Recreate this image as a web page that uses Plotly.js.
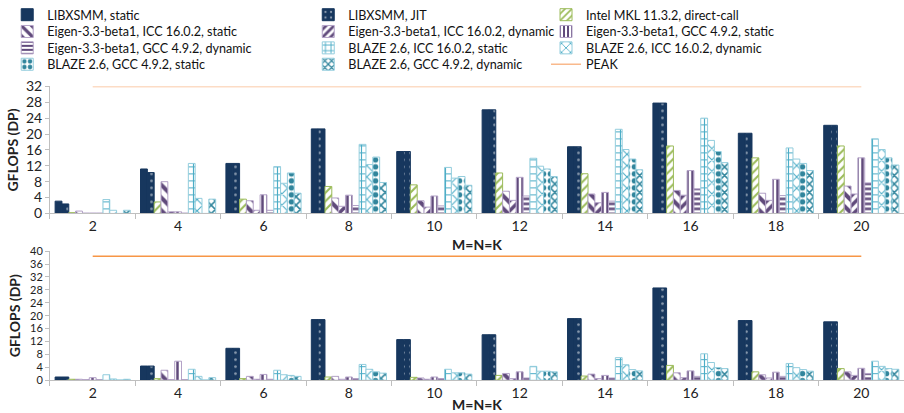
<!DOCTYPE html>
<html>
<head>
<meta charset="utf-8">
<script src="https://cdn.plot.ly/plotly-3.0.1.min.js"></script>
<style>html,body{margin:0;padding:0;background:#fff;}#chart{width:904px;height:413px;}</style>
</head>
<body>
<div id="chart"></div>
<script>
const categories = ['2','4','6','8','10','12','14','16','18','20'];
const seriesNames = [
  'LIBXSMM, static','LIBXSMM, JIT','Intel MKL 11.3.2, direct-call',
  'Eigen-3.3-beta1, ICC 16.0.2, static','Eigen-3.3-beta1, ICC 16.0.2, dynamic','Eigen-3.3-beta1, GCC 4.9.2, static',
  'Eigen-3.3-beta1, GCC 4.9.2, dynamic','BLAZE 2.6, ICC 16.0.2, static','BLAZE 2.6, ICC 16.0.2, dynamic',
  'BLAZE 2.6, GCC 4.9.2, static','BLAZE 2.6, GCC 4.9.2, dynamic'
];
const peakName = 'PEAK';

// Top chart values
const topLibxsmmStatic   = [3.1, 11.2, 12.6, 21.3, 15.6, 26.1, 16.8, 27.8, 20.2, 22.2];
const topLibxsmmJit      = [2.4, 10.3, 12.6, 21.3, 15.6, 26.1, 16.8, 27.8, 20.2, 22.2];
const topMkl             = [0.2, 2.9, 3.6, 6.8, 7.2, 10.2, 10.0, 17.0, 14.0, 17.0];
const topEigenIccStatic  = [0.6, 8.0, 3.2, 3.9, 3.2, 5.6, 4.9, 5.8, 5.1, 6.9];
const topEigenIccDyn     = [0.1, 0.4, 0.8, 1.8, 1.6, 3.3, 2.7, 4.6, 3.3, 4.9];
const topEigenGccStatic  = [0.1, 0.4, 4.7, 4.6, 4.4, 9.1, 5.3, 10.8, 8.6, 14.0];
const topEigenGccDyn     = [0.1, 0.1, 0.8, 2.0, 1.9, 4.4, 3.1, 6.2, 4.5, 7.7];
const topBlazeIccStatic  = [3.5, 12.6, 11.8, 17.4, 11.6, 13.9, 21.2, 24.0, 16.5, 18.8];
const topBlazeIccDyn     = [0.8, 3.8, 7.6, 12.3, 8.9, 11.9, 16.1, 18.4, 13.7, 16.1];
const topBlazeGccStatic  = [0.0, 0.0, 10.2, 14.2, 9.3, 11.2, 13.7, 15.6, 12.6, 14.0];
const topBlazeGccDyn     = [0.8, 3.6, 5.1, 7.8, 7.1, 9.3, 11.0, 12.8, 10.8, 12.2];
const topPeak            = [32, 32, 32, 32, 32, 32, 32, 32, 32, 32];

// Bottom chart values
const botLibxsmmStatic   = [1.0, 4.4, 9.9, 18.8, 12.6, 14.1, 19.1, 28.6, 18.5, 18.1];
const botLibxsmmJit      = [1.0, 4.4, 9.9, 18.8, 12.6, 14.1, 19.1, 28.6, 18.5, 18.1];
const botMkl             = [0.3, 0.5, 0.5, 1.0, 0.9, 1.5, 1.3, 4.6, 2.6, 3.6];
const botEigenIccStatic  = [0.3, 3.1, 1.2, 1.2, 0.7, 2.1, 1.9, 2.3, 1.7, 2.6];
const botEigenIccDyn     = [0.2, 0.2, 0.3, 0.3, 0.3, 0.5, 0.5, 0.8, 0.7, 1.5];
const botEigenGccStatic  = [0.8, 5.9, 1.8, 1.0, 1.0, 2.6, 1.5, 2.9, 2.5, 3.7];
const botEigenGccDyn     = [0.2, 0.2, 0.3, 0.5, 0.5, 0.7, 0.7, 1.2, 1.2, 2.1];
const botBlazeIccStatic  = [1.7, 3.4, 3.1, 4.9, 3.4, 4.3, 7.0, 8.2, 5.2, 5.9];
const botBlazeIccDyn     = [0.4, 1.2, 1.7, 3.4, 2.3, 2.8, 4.8, 5.5, 3.9, 4.3];
const botBlazeGccStatic  = [0.1, 0.1, 1.5, 2.6, 2.3, 2.8, 3.3, 3.9, 3.3, 3.6];
const botBlazeGccDyn     = [0.3, 0.8, 1.2, 2.2, 1.9, 2.6, 2.9, 3.6, 2.8, 3.4];
const botPeak            = [38.4, 38.4, 38.4, 38.4, 38.4, 38.4, 38.4, 38.4, 38.4, 38.4];

const topSeries = [topLibxsmmStatic, topLibxsmmJit, topMkl, topEigenIccStatic, topEigenIccDyn, topEigenGccStatic,
  topEigenGccDyn, topBlazeIccStatic, topBlazeIccDyn, topBlazeGccStatic, topBlazeGccDyn];
const botSeries = [botLibxsmmStatic, botLibxsmmJit, botMkl, botEigenIccStatic, botEigenIccDyn, botEigenGccStatic,
  botEigenGccDyn, botBlazeIccStatic, botBlazeIccDyn, botBlazeGccStatic, botBlazeGccDyn];

const NAVY = '#17375E', GREEN = '#9BBB59', PURPLE = '#604A7B', LPURPLE = '#B3A2C7',
      TEAL = '#31859C', BLUE = '#4BACC6', LBLUE = '#93CDDD';
const styles = [
  {color: NAVY, line: NAVY, pattern: {shape: ''}},
  {color: NAVY, line: NAVY, pattern: {shape: '.', fillmode: 'overlay', fgcolor: '#ffffff', bgcolor: NAVY, size: 7, solidity: 0.12}},
  {color: '#ffffff', line: GREEN, pattern: {shape: '/', fgcolor: GREEN, bgcolor: '#ffffff', size: 6, solidity: 0.35}},
  {color: '#ffffff', line: LPURPLE, pattern: {shape: '\\', fgcolor: PURPLE, bgcolor: '#ffffff', size: 9, solidity: 0.45}},
  {color: '#ffffff', line: LPURPLE, pattern: {shape: '/', fgcolor: PURPLE, bgcolor: '#ffffff', size: 7, solidity: 0.5}},
  {color: '#ffffff', line: LPURPLE, pattern: {shape: '|', fgcolor: PURPLE, bgcolor: '#ffffff', size: 5, solidity: 0.5}},
  {color: '#ffffff', line: LPURPLE, pattern: {shape: '-', fgcolor: PURPLE, bgcolor: '#ffffff', size: 5, solidity: 0.5}},
  {color: '#ffffff', line: LBLUE, pattern: {shape: '+', fgcolor: BLUE, bgcolor: '#ffffff', size: 7, solidity: 0.3}},
  {color: '#ffffff', line: LBLUE, pattern: {shape: 'x', fgcolor: BLUE, bgcolor: '#ffffff', size: 8, solidity: 0.25}},
  {color: '#ffffff', line: LBLUE, pattern: {shape: '.', fgcolor: TEAL, bgcolor: '#ffffff', size: 7, solidity: 0.5}},
  {color: '#ffffff', line: LBLUE, pattern: {shape: 'x', fgcolor: TEAL, bgcolor: '#ffffff', size: 6, solidity: 0.45}}
];
// one legend per entry, laid out in 3 columns x 4 rows (row-major)
const legendId = i => (i === 0 ? 'legend' : 'legend' + (i + 1));

const traces = [];
seriesNames.forEach((name, i) => {
  const st = styles[i];
  const mk = {color: st.color, line: {color: st.line, width: 1}, pattern: st.pattern};
  traces.push({type: 'bar', name: name, x: categories, y: topSeries[i], xaxis: 'x', yaxis: 'y',
    marker: mk, legend: legendId(i), legendgroup: 'g' + i, showlegend: true, hoverinfo: 'skip'});
  traces.push({type: 'bar', name: name, x: categories, y: botSeries[i], xaxis: 'x2', yaxis: 'y2',
    marker: mk, legend: legendId(i), legendgroup: 'g' + i, showlegend: false, hoverinfo: 'skip'});
});
traces.push({type: 'scatter', mode: 'lines', name: peakName, x: categories, y: topPeak, xaxis: 'x', yaxis: 'y',
  line: {color: '#F9B98C', width: 1.5}, legend: legendId(11), showlegend: true, hoverinfo: 'skip'});
traces.push({type: 'scatter', mode: 'lines', name: peakName, x: categories, y: botPeak, xaxis: 'x2', yaxis: 'y2',
  line: {color: '#F79646', width: 1.5}, legend: legendId(11), showlegend: false, hoverinfo: 'skip'});

const FONT = 'Lato, "Open Sans", sans-serif';
const xCommon = {type: 'category', categoryorder: 'array', categoryarray: categories,
  showline: true, linecolor: '#BFBFBF', linewidth: 1, ticks: 'outside', tickson: 'boundaries',
  ticklen: 5, tickcolor: '#BFBFBF', showgrid: false, zeroline: false,
  tickfont: {family: FONT, size: 14, color: '#222'}, domain: [0.0553, 1.0]};
const yCommon = {showline: true, linecolor: '#BFBFBF', linewidth: 1, ticks: 'outside', ticklen: 4,
  tickcolor: '#BFBFBF', showgrid: false, zeroline: false, dtick: 4};
const legendCommon = {orientation: 'v', xanchor: 'left', yanchor: 'middle', bgcolor: 'rgba(0,0,0,0)',
  font: {family: FONT, size: 12.6, color: '#111'}, tracegroupgap: 0, itemwidth: 30};

const colX = [0.008, 0.341, 0.604];
const rowY = [12, 29, 45.5, 62];

const layout = {
  width: 904, height: 413, margin: {l: 0, r: 0, t: 0, b: 0},
  paper_bgcolor: '#ffffff', plot_bgcolor: '#ffffff',
  barmode: 'group', bargap: 0.12, bargroupgap: 0,
  showlegend: true,
  xaxis: Object.assign({}, xCommon, {anchor: 'y',
    title: {text: '<b>M=N=K</b>', font: {family: FONT, size: 14, color: '#222'}, standoff: 6}}),
  yaxis: Object.assign({}, yCommon, {anchor: 'x', domain: [0.4867, 0.7966], range: [0, 32],
    tickfont: {family: FONT, size: 14, color: '#222'},
    title: {text: '<b>GFLOPS (DP)</b>', font: {family: FONT, size: 14, color: '#222'}, standoff: 4}}),
  xaxis2: Object.assign({}, xCommon, {anchor: 'y2',
    title: {text: '<b>M=N=K</b>', font: {family: FONT, size: 14, color: '#222'}, standoff: 1}}),
  yaxis2: Object.assign({}, yCommon, {anchor: 'x2', domain: [0.0799, 0.3947], range: [0, 40],
    tickfont: {family: FONT, size: 11, color: '#222'},
    title: {text: '<b>GFLOPS (DP)</b>', font: {family: FONT, size: 14, color: '#222'}, standoff: 6}})
};
for (let i = 0; i < 12; i++) {
  layout[legendId(i)] = Object.assign({}, legendCommon, {x: colX[i % 3], y: 1 - rowY[Math.floor(i / 3)] / 413});
}

Plotly.newPlot('chart', traces, layout, {staticPlot: true, displayModeBar: false});
</script>
</body>
</html>
